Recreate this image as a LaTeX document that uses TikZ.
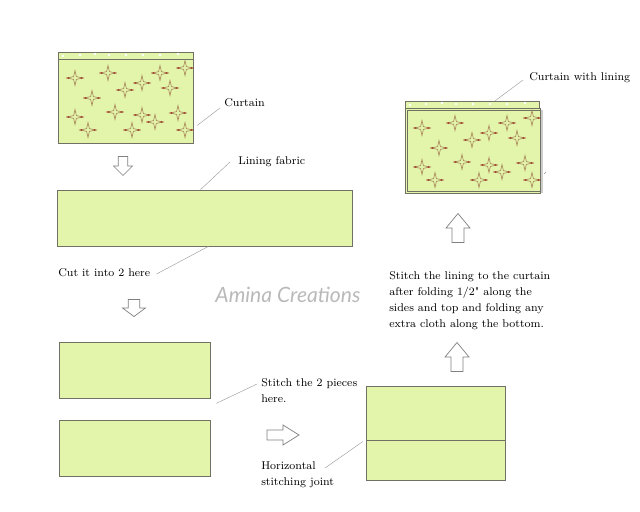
\documentclass[tikz,border=0pt]{standalone}
\usepackage{fontspec}
\newfontfamily\markfont{Lato}
\usetikzlibrary{fit}
\definecolor{fabricgreen}{RGB}{226,245,170}
\definecolor{edgegray}{RGB}{112,112,100}
\definecolor{startan}{RGB}{170,135,90}
\definecolor{tipred}{RGB}{150,10,10}
\newcommand{\starspots}{17/18,50/13,102/13,127/8,84/23,67/30,112/28,34/38,17/57,57/52,84/55,97/62,120/53,30/70,74/70,127/70}

\begin{document}
\begin{tikzpicture}[
		x=0.025cm,y=-0.025cm,
		fabric/.style={draw=edgegray,fill=fabricgreen,inner sep=0pt,line width=0.5pt},
		lbl/.style={inner sep=0pt,anchor=west,font=\fontsize{8}{11.4}\selectfont,align=left},
		leader/.style={draw=gray!80,line width=0.3pt},
		hollow/.style={draw=gray,fill=white,line width=0.5pt},
		blockarrow/.pic={\draw[hollow] (-10,5) -- (0,5) -- (0,10) -- (10,0) -- (0,-10) -- (0,-5) -- (-10,-5) -- cycle;},
		sparkle/.pic={
			\draw[startan,line width=0.45pt,line join=miter] (7.5,0) -- (1.4,1.4) -- (0,7.5) -- (-1.4,1.4) -- (-7.5,0) -- (-1.4,-1.4) -- (0,-7.5) -- (1.4,-1.4) -- cycle;
			\foreach \a in {0,180}
				\draw[tipred,line width=0.5pt,rotate=\a] (5.8,0.35) -- (7.5,0) -- (5.8,-0.35);
		}
		]
		\useasboundingbox (0,0) rectangle (640,512);
		% curtain
		\node[fabric,fit={(58,59) (193,143)}] (curtain) {};
		\node[fabric,fit={(58,52) (193,59)}] (curtainband) {};
		\foreach \dx/\dy in {63/56,80/55,95/54,109/55,126/55,143/55,160/55,178/54}
			\fill[white] (\dx,\dy) circle (1pt);
		\foreach \sx/\sy in \starspots
			\pic at (58+\sx,60+\sy) {sparkle};
		\node[lbl] (curtainlbl) at (224,103) {Curtain};
		\draw[leader] ([shift={(-4,5)}]curtainlbl.west) -- ([shift={(4,-18)}]curtain.south east);
		\pic[rotate=-90,scale=0.95] at (123,166) {blockarrow};
		% lining
		\node[fabric,fit={(57,190) (352,246)}] (lining) {};
		\node[lbl] (lininglbl) at (238,162) {Lining fabric};
		\draw[leader] ([shift={(-8,0)}]lininglbl.west) -- ([shift={(-4,0)}]lining.north);
		\node[lbl] (cutlbl) at (58,273) {Cut it into 2 here};
		\draw[leader] ([shift={(6,1)}]cutlbl.east) -- ([shift={(4,0)}]lining.south);
		\node[text=gray!55] (mark) at (288,295) {\markfont\itshape\fontsize{15}{17}\selectfont Amina Creations};
		\pic[rotate=-90,xscale=0.85,yscale=1.15] at (134,308) {blockarrow};
		% two pieces
		\node[fabric,fit={(59,342) (210,398)}] (piecetop) {};
		\node[fabric,fit={(59,420) (210,476)}] (piecebot) {};
		\node[lbl] (stitchlbl) at (261,391) {Stitch the 2 pieces\\here.};
		\draw[leader] ([shift={(-4,-7)}]stitchlbl.west) -- ([shift={(6,5)}]piecetop.south east);
		\pic[xscale=1.6] at (283,435) {blockarrow};
		% joined pieces
		\node[fabric,fit={(366,386) (505,440)}] (joinedtop) {};
		\node[fabric,fit={(366,440) (505,480)}] (joinedbot) {};
		\node[lbl] (jointlbl) at (261,475) {Horizontal\\stitching joint};
		\draw[leader] ([shift={(64,-7)}]jointlbl.west) -- ([shift={(-3,2)}]joinedbot.north west);
		\pic[rotate=90,xscale=1.45,yscale=1.2] at (457,357) {blockarrow};
		\node[lbl] (steplbl) at (389,301) {Stitch the lining to the curtain\\after folding 1/2\textquotedbl{} along the\\sides and top and folding any\\extra cloth along the bottom.};
		\pic[rotate=90,xscale=1.45,yscale=1.2] at (458,228) {blockarrow};
		% curtain with lining
		\draw[gray!40,line width=1.2pt] (542,110) -- (542,193);
		\node[fabric,fit={(405,108) (540,193)}] (lined) {};
		\draw[edgegray,line width=0.4pt] (407,110) rectangle (540,191);
		\node[fabric,fit={(405,101) (539,108)}] (linedband) {};
		\foreach \dx/\dy in {410/105,426/104,442/103,456/104,473/104,490/104,507/104,525/103}
			\fill[white] (\dx,\dy) circle (1pt);
		\foreach \sx/\sy in \starspots
			\pic at (405+\sx,110+\sy) {sparkle};
		\node[lbl] (linedlbl) at (529,78) {Curtain with lining};
		\draw[leader] ([shift={(-6,2)}]linedlbl.west) -- ([shift={(-44,0)}]linedband.north east);
		\draw[leader] (544,174) -- (546,172);
	\end{tikzpicture}
\end{document}
